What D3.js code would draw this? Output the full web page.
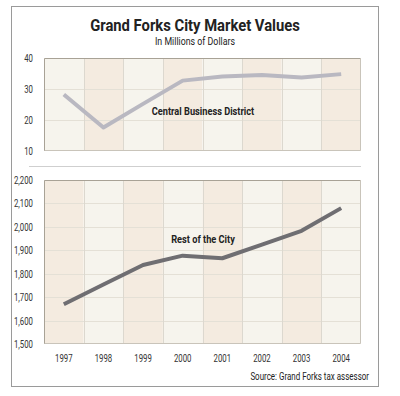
<!DOCTYPE html>
<html>
<head>
<meta charset="utf-8">
<script src="https://cdn.jsdelivr.net/npm/d3@7"></script>
<style>
  body { margin: 0; background: #fff; }
  text { font-family: Roboto, "Liberation Sans", sans-serif; fill: #222; }
  .tick text { font-size: 10px; fill: #333; }
</style>
</head>
<body>
<div id="chart"></div>
<script>
var years = [1997, 1998, 1999, 2000, 2001, 2002, 2003, 2004];
var cbdValues = [28.2, 17.6, 25.2, 32.7, 34.0, 34.5, 33.7, 34.8];
var restValues = [1670, 1754, 1837, 1877, 1866, 1924, 1983, 2080];
var cbdTicks = [10, 20, 30, 40];
var restTicks = [1500, 1600, 1700, 1800, 1900, 2000, 2100, 2200];

var width = 400, height = 396;
var left = 44, right = 361;

var svg = d3.select("#chart").append("svg")
  .attr("width", width)
  .attr("height", height);

// the original type is a condensed face, so squeeze the glyphs sideways
function squeeze(sel, ratio) {
  sel.each(function() {
    var t = d3.select(this);
    var tx = +t.attr("x") || 0, ty = +t.attr("y") || 0;
    t.attr("x", null).attr("y", null)
      .attr("transform", "translate(" + tx + "," + ty + ") scale(" + ratio + ",1)");
  });
}

// outer frame
svg.append("rect")
  .attr("x", 11.5).attr("y", 6.5)
  .attr("width", 367).attr("height", 380)
  .attr("fill", "#fff")
  .attr("stroke", "#9a9a9a");

svg.append("text")
  .attr("x", 195).attr("y", 31)
  .attr("text-anchor", "middle")
  .style("font-size", "17px").style("font-weight", "bold")
  .text("Grand Forks City Market Values")
  .call(squeeze, 0.87);

svg.append("text")
  .attr("x", 195).attr("y", 45)
  .attr("text-anchor", "middle")
  .style("font-size", "10.5px")
  .text("In Millions of Dollars")
  .call(squeeze, 0.84);

var x = d3.scaleBand().domain(years).range([left, right]);

function panel(top, bottom, domain, ticks, values, fmt, color, label, labelY, firstPink) {
  var y = d3.scaleLinear().domain(domain).range([bottom, top]);
  var g = svg.append("g");

  g.selectAll("rect.col")
    .data(years)
    .enter()
    .append("rect")
    .attr("class", "col")
    .attr("x", function(d) { return x(d); })
    .attr("y", top)
    .attr("width", x.bandwidth())
    .attr("height", bottom - top)
    .attr("fill", function(d, i) {
      return (i % 2 == 0) == firstPink ? "#f4ebe0" : "#f6f4ed";
    });

  // horizontal grid
  g.selectAll("line.h")
    .data(ticks.slice(1, -1))
    .enter()
    .append("line")
    .attr("x1", left).attr("x2", right)
    .attr("y1", function(d) { return Math.round(y(d)) + 0.5; })
    .attr("y2", function(d) { return Math.round(y(d)) + 0.5; })
    .attr("stroke", "#e4e0d6");

  // vertical grid
  g.selectAll("line.v")
    .data(years.slice(1))
    .enter()
    .append("line")
    .attr("x1", function(d) { return Math.round(x(d)) + 0.5; })
    .attr("x2", function(d) { return Math.round(x(d)) + 0.5; })
    .attr("y1", top).attr("y2", bottom)
    .attr("stroke", "#dcd8cf");

  // frame: top and left darker
  g.append("path")
    .attr("d", "M" + (left + 0.5) + "," + bottom + "V" + (top + 0.5) + "H" + right)
    .attr("fill", "none").attr("stroke", "#a8a296");
  g.append("path")
    .attr("d", "M" + (left + 0.5) + "," + (bottom - 0.5) + "H" + (right - 0.5) + "V" + top)
    .attr("fill", "none").attr("stroke", "#c9c4ba");

  var axis = g.append("g")
    .attr("transform", "translate(" + (left - 8) + ",0)")
    .call(d3.axisLeft(y).tickValues(ticks).tickSize(0).tickFormat(fmt));
  axis.select(".domain").remove();
  axis.selectAll("text").attr("dy", "0.35em").call(squeeze, 0.78);

  var line = d3.line()
    .x(function(d, i) { return x(years[i]) + x.bandwidth() / 2; })
    .y(function(d) { return y(d); });

  g.append("path")
    .datum(values)
    .attr("d", line)
    .attr("fill", "none")
    .attr("stroke", color)
    .attr("stroke-width", 4)
    .attr("stroke-linejoin", "round");

  g.append("text")
    .attr("x", 203).attr("y", labelY)
    .attr("text-anchor", "middle")
    .style("font-size", "11px").style("font-weight", "bold")
    .text(label)
    .call(squeeze, 0.84);
  return g;
}

panel(58, 151, [10, 40], cbdTicks, cbdValues, d3.format("d"), "#b9b8c1",
      "Central Business District", 115, false);

svg.append("line")
  .attr("x1", 29).attr("x2", 361)
  .attr("y1", 166.5).attr("y2", 166.5)
  .attr("stroke", "#cfcfcf");

panel(180, 344, [1500, 2200], restTicks, restValues, d3.format(","), "#6f6e72",
      "Rest of the City", 243, true);

var xAxis = svg.append("g")
  .attr("transform", "translate(0,352)")
  .call(d3.axisBottom(x).tickSize(0));
xAxis.select(".domain").remove();
xAxis.selectAll("text").attr("dy", "0.71em").call(squeeze, 0.78);

svg.append("text")
  .attr("x", 369).attr("y", 380)
  .attr("text-anchor", "end")
  .style("font-size", "10.5px")
  .text("Source: Grand Forks tax assessor")
  .call(squeeze, 0.76);
</script>
</body>
</html>
